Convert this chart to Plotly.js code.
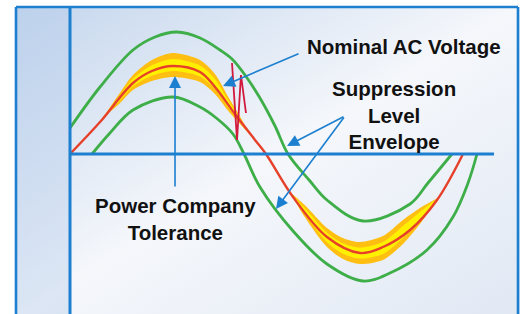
<!DOCTYPE html>
<html><head><meta charset="utf-8">
<script src="https://cdn.plot.ly/plotly-3.0.1.min.js"></script>
<style>html,body{margin:0;padding:0;background:#fff}#c{width:520px;height:314px}</style>
</head><body><div id="c"></div>
<script>
// phase in degrees, amplitude in arbitrary units
const phaseNominal = [0, 27.5, 57.7, 75, 94.3, 119.1, 132.8, 151.1, 169.5, 179.5, 204.3, 235.4, 265.6, 286.7, 311.5, 336.2, 360];
const nominal      = [0, 32, 71, 83, 88, 82, 67, 40, 14, 0, -43, -83, -99, -93, -76, -46, 0];

const phaseEnvHi = [0, 27.5, 57.7, 77.9, 98, 119.1, 137.4, 148.4, 160.3, 174, 187.8, 199.7, 219.8, 235.4, 268.4, 311.5, 327.9, 349.9];
const envHi      = [26, 67, 104, 117, 122, 116, 104, 95, 79, 56, 28, 0, -27, -46, -67, -50, -29, 0];

const phaseEnvLo = [20.2, 36.6, 57.7, 94.3, 119.1, 134, 149.3, 159.4, 174, 204.3, 235.4, 268.4, 293.1, 327, 350.8, 364.6, 372.8];
const envLo      = [0, 21, 44, 57, 47, 36, 20, 0, -33, -77, -110, -127, -119, -96, -63, -29, 0];

const tolPosPhase = [30, 45, 57.7, 75, 94.3, 119.1, 132.8, 145, 155, 165];
const tolPosHi    = [36, 60, 79, 94, 101, 94, 80, 57, 39, 19];
const tolPosLo    = [36, 50, 64, 73, 77, 72, 60, 43, 31, 19];

const tolNegPhase = [201.5, 215, 235.4, 250, 265.6, 286.7, 305, 322, 337];
const tolNegHi    = [-38, -51, -74, -84, -88, -82, -66, -53, -44];
const tolNegLo    = [-38, -63, -93, -105, -110, -106, -90, -68, -44];

const spikePhase = [148.4, 153.0, 156.6, 161.2];
const spike      = [91, 14, 79, 41];

const labelNominal = 'Nominal AC Voltage';
const labelEnvelope = 'Suppression<br>Level<br>Envelope';
const labelTolerance = 'Power Company<br>Tolerance';

function bandPoly(xs, hi, lo, frac){
  const X = [], Y = [];
  for (let i = 0; i < xs.length; i++){ const m=(hi[i]+lo[i])/2, h=(hi[i]-lo[i])/2*frac; X.push(xs[i]); Y.push(m+h); }
  for (let i = xs.length-1; i >= 0; i--){ const m=(hi[i]+lo[i])/2, h=(hi[i]-lo[i])/2*frac; X.push(xs[i]); Y.push(m-h); }
  X.push(X[0]); Y.push(Y[0]);
  return {X, Y};
}
function band(xs, hi, lo, frac, color){
  const p = bandPoly(xs, hi, lo, frac);
  return {x:p.X, y:p.Y, type:'scatter', mode:'lines', fill:'toself', fillcolor:color,
          line:{width:0, shape:'spline', smoothing:0.8}, hoverinfo:'skip', showlegend:false};
}

const blue = '#1c7fd0', green = '#3eae48', red = '#e6402b';
const traces = [
  band(tolPosPhase, tolPosHi, tolPosLo, 1, '#ffbf12'),
  band(tolPosPhase, tolPosHi, tolPosLo, 0.5, '#fff000'),
  band(tolNegPhase, tolNegHi, tolNegLo, 1, '#ffbf12'),
  band(tolNegPhase, tolNegHi, tolNegLo, 0.5, '#fff000'),
  {x:phaseEnvHi, y:envHi, type:'scatter', mode:'lines', line:{color:green, width:2.8, shape:'spline'}, showlegend:false},
  {x:phaseEnvLo, y:envLo, type:'scatter', mode:'lines', line:{color:green, width:2.8, shape:'spline'}, showlegend:false},
  {x:phaseNominal, y:nominal, type:'scatter', mode:'lines', line:{color:red, width:2.4, shape:'spline'}, showlegend:false},
  {x:spikePhase, y:spike, type:'scatter', mode:'lines', line:{color:'#d1193c', width:1.8}, showlegend:false}
];

const bgSvg = "<svg xmlns='http://www.w3.org/2000/svg' width='520' height='314'>" +
  "<defs><linearGradient id='g' x1='0' y1='0' x2='1' y2='1'>" +
  "<stop offset='0' stop-color='#c4d6ed'/><stop offset='0.5' stop-color='#f5f7fb'/><stop offset='1' stop-color='#e0e8f4'/>" +
  "</linearGradient></defs>" +
  "<rect width='520' height='314' fill='#ffffff'/>" +
  "<rect x='16' y='7' width='504' height='310' fill='url(#g)'/>" +
  "<rect x='16' y='7' width='54' height='310' fill='#b3cbea' fill-opacity='0.38'/></svg>";

const font = {family:'Liberation Sans, Arial, sans-serif', size:20.5, color:'#111111'};
const arrowBase = {text:'', showarrow:true, arrowhead:2, arrowsize:1.5, arrowwidth:1.6, arrowcolor:blue, axref:'x', ayref:'y', xref:'x', yref:'y'};

const layout = {
  width:520, height:314, margin:{l:0,r:0,t:0,b:0},
  paper_bgcolor:'#ffffff', plot_bgcolor:'rgba(0,0,0,0)', showlegend:false,
  xaxis:{range:[-64.12, 412.21], visible:false, fixedrange:true},
  yaxis:{range:[-160, 154], visible:false, fixedrange:true},
  images:[{source:'data:image/svg+xml;charset=utf-8,'+encodeURIComponent(bgSvg), xref:'paper', yref:'paper',
           x:0, y:1, sizex:1, sizey:1, sizing:'stretch', xanchor:'left', yanchor:'top', layer:'below'}],
  shapes:[
    {type:'line', xref:'paper', yref:'paper', x0:0.03077, x1:0.03077, y0:-0.02, y1:0.9777, line:{color:blue, width:2.6}},
    {type:'line', xref:'paper', yref:'paper', x0:0.03077, x1:0.99615, y0:0.9777, y1:0.9777, line:{color:blue, width:2.6}},
    {type:'line', xref:'paper', yref:'paper', x0:0.99615, x1:0.99615, y0:-0.02, y1:0.9777, line:{color:blue, width:2.6}},
    {type:'line', xref:'x', yref:'paper', x0:0, x1:0, y0:-0.02, y1:0.9777, line:{color:blue, width:3}},
    {type:'line', xref:'x', yref:'y', x0:0, x1:388.4, y0:0, y1:0, line:{color:blue, width:3}}
  ],
  annotations:[
    {text:'<b>'+labelNominal+'</b>', x:305.5, y:108, xref:'x', yref:'y', showarrow:false, font:font, xanchor:'center', yanchor:'middle'},
    {text:'<b>'+labelEnvelope+'</b>', x:296.8, y:39.5, xref:'x', yref:'y', showarrow:false, font:font, xanchor:'center', yanchor:'middle'},
    {text:'<b>'+labelTolerance+'</b>', x:96.2, y:-65, xref:'x', yref:'y', showarrow:false, font:font, xanchor:'center', yanchor:'middle'},
    Object.assign({}, arrowBase, {x:140.2, y:68, ax:210.7, ay:101}),
    Object.assign({}, arrowBase, {x:198.8, y:8, ax:251.9, ay:38}),
    Object.assign({}, arrowBase, {x:188.7, y:-55, ax:251.9, ay:38}),
    Object.assign({}, arrowBase, {x:96.2, y:78, ax:96.2, ay:-34})
  ]
};
Plotly.newPlot('c', traces, layout, {staticPlot:true, displayModeBar:false});
</script></body></html>
